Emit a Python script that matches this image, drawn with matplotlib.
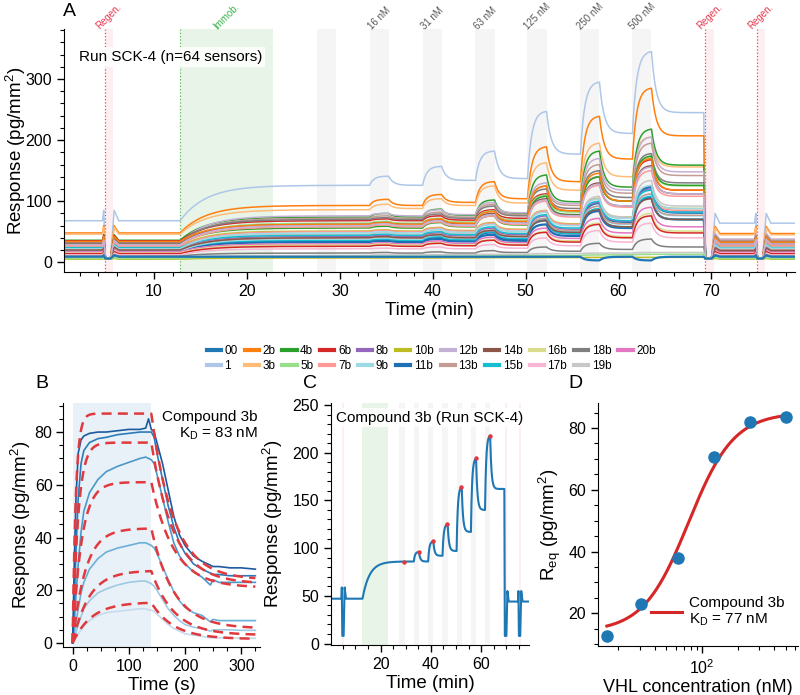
import numpy as np
import matplotlib
matplotlib.use("Agg")
from matplotlib import pyplot as plt
from matplotlib.lines import Line2D
from matplotlib.ticker import MultipleLocator, LogLocator, NullFormatter

plt.rcParams['font.family'] = ['Liberation Sans', 'DejaVu Sans']
plt.rcParams['mathtext.fontset'] = 'custom'
plt.rcParams['mathtext.rm'] = 'Liberation Sans'
plt.rcParams['mathtext.it'] = 'Liberation Sans:italic'
plt.rcParams['xtick.labelsize'] = 11.5
plt.rcParams['ytick.labelsize'] = 11.5
plt.rcParams['axes.labelsize'] = 13.5

# run protocol (minutes)
regen_bands = [(4.7, 5.6), (69.3, 70.3), (74.9, 75.8)]
immob_band = (12.8, 22.8)
inj_starts = [27.5, 33.2, 38.9, 44.6, 50.2, 55.9, 61.5]   # first one is a blank
inj_dur = 2.05
conc_labels = ["16 nM", "31 nM", "63 nM", "125 nM", "250 nM", "500 nM"]

label_colors = {"00": "#1f77b4", "1": "#aec7e8", "2b": "#ff7f0e", "3b": "#ffbb78",
                "4b": "#2ca02c", "5b": "#98df8a", "6b": "#d62728", "7b": "#ff9896",
                "8b": "#9467bd", "9b": "#9edae5", "10b": "#bcbd22", "11b": "#1f6fb4",
                "12b": "#c5b0d5", "13b": "#c49c94", "14b": "#8c564b", "15b": "#17becf",
                "16b": "#dbdb8d", "17b": "#f7b6d2", "18b": "#7f7f7f", "19b": "#c7c7c7",
                "20b": "#e377c2"}

# panel A: levels read per sensor (pg/mm2)
sensor_labels = ["1", "2b", "3b", "4b", "12b", "13b", "6b", "18b", "5b", "4b",
                 "14b", "10b", "19b", "7b", "00", "11b", "15b", "9b", "20b", "8b",
                 "13b", "16b", "6b", "17b", "18b", "2b", "15b", "7b", "9b", "14b",
                 "12b", "10b", "19b", "5b", "00"]
sensor_base = [68, 48, 46, 36, 32, 30, 35, 33, 28, 30,
               30, 26, 25, 24, 20, 19, 20, 18, 17, 22,
               21, 15, 14, 12, 10, 34, 24, 27, 22, 20,
               29, 5, 8, 6, 9]
sensor_imm = [126, 93, 86, 74, 76, 72, 68, 70, 64, 56,
              62, 51, 46, 50, 34, 33, 36, 38, 30, 42,
              40, 28, 26, 22, 15, 62, 44, 58, 48, 40,
              60, 7, 11, 9, 9]
sensor_peaks = [[141, 157, 182, 247, 295, 345],
                [103, 111, 132, 189, 239, 285],
                [95, 104, 125, 163, 195, 205],
                [80, 87, 102, 143, 182, 218],
                [80, 86, 98, 130, 170, 205],
                [76, 82, 95, 125, 160, 195],
                [71, 76, 86, 112, 140, 168],
                [73, 79, 92, 120, 150, 178],
                [67, 72, 84, 110, 140, 172],
                [59, 65, 76, 108, 140, 174],
                [65, 70, 80, 104, 130, 158],
                [53, 57, 65, 85, 105, 125],
                [49, 53, 62, 84, 108, 134],
                [52, 56, 64, 84, 104, 124],
                [37, 41, 49, 70, 97, 123],
                [35, 38, 45, 62, 84, 106],
                [38, 42, 50, 68, 88, 108],
                [40, 44, 52, 72, 92, 112],
                [32, 35, 41, 56, 72, 90],
                [44, 48, 56, 76, 98, 120],
                [42, 46, 53, 72, 92, 112],
                [30, 32, 37, 50, 64, 80],
                [28, 31, 36, 49, 62, 76],
                [23, 25, 29, 40, 52, 64],
                [16, 17, 19, 25, 31, 38],
                [65, 71, 83, 125, 146, 170],
                [46, 50, 58, 78, 100, 118],
                [61, 66, 76, 100, 126, 150],
                [50, 54, 62, 82, 104, 126],
                [42, 45, 52, 68, 86, 104],
                [63, 68, 78, 102, 128, 156],
                [7, 7, 7.5, 7.5, 8, 8],
                [12, 12.5, 13, 14, 15, 16],
                [9.5, 10, 10.5, 11, 12, 13],
                [9, 9, 9, 9, 3, 3]]
sensor_after = [[126, 134, 137, 177, 211, 245],
                [93, 98, 104, 132, 169, 207],
                [88, 93, 97, 118, 140, 156],
                [74, 77, 80, 99, 123, 159],
                [76, 78, 81, 96, 118, 148],
                [72, 74, 78, 93, 113, 142],
                [68, 69, 72, 84, 100, 118],
                [70, 72, 76, 88, 106, 130],
                [64, 66, 69, 82, 100, 125],
                [56, 58, 61, 78, 100, 126],
                [62, 63, 66, 77, 92, 112],
                [51, 52, 54, 63, 74, 88],
                [46, 47, 50, 60, 74, 92],
                [50, 51, 53, 62, 72, 85],
                [34, 35, 37, 47, 66, 81],
                [33, 34, 35, 43, 56, 70],
                [36, 37, 39, 47, 58, 70],
                [38, 39, 41, 50, 62, 76],
                [30, 31, 32, 39, 48, 58],
                [42, 43, 45, 54, 67, 82],
                [40, 41, 43, 52, 63, 77],
                [28, 28, 29, 35, 42, 51],
                [26, 27, 28, 33, 40, 48],
                [22, 22, 23, 27, 33, 40],
                [15, 15, 16, 18, 21, 25],
                [62, 64, 67, 84, 100, 118],
                [44, 45, 47, 56, 68, 82],
                [58, 59, 62, 74, 90, 108],
                [48, 49, 51, 60, 72, 88],
                [40, 40, 42, 49, 58, 70],
                [60, 61, 64, 76, 92, 112],
                [7, 7, 7.5, 7.5, 8, 8],
                [12, 12.5, 13, 14, 15, 16],
                [9.5, 10, 10.5, 11, 12, 13],
                [9, 9, 9, 9, 9, 9]]
sensor_final = [64, 47, 45, 35, 38, 36, 33, 34, 31, 30,
                30, 27, 24, 25, 20, 19, 20, 18, 17, 22,
                21, 14, 14, 12, 10, 33, 24, 28, 23, 19,
                30, 5, 8, 6, 9]

# panel C: compound 3b sensor
c_base, c_imm, c_final = 47, 86, 44
c_peaks = [96, 107, 125, 164, 194, 218]
c_after = [86, 92, 97, 117, 140, 162]

# panel B: kinetics of compound 3b (s, pg/mm2)
b_conc = [16, 31, 63, 125, 250, 500]
b_t = [0, 3, 6, 10, 15, 20, 30, 45, 60, 80, 100, 120, 130, 135, 140, 145, 150, 160,
       170, 180, 190, 200, 215, 230, 245, 250, 260, 280, 300, 325]
b_resp = [
    [0, 1, 2, 3.5, 5, 6.5, 8.5, 10.5, 11.5, 12, 12.5, 13, 13, 12.5, 12.5, 12, 11, 9,
     7, 5.5, 4.5, 3.5, 3, 2.5, 2, 2, 2, 2, 1.8, 1.8],
    [0, 2, 4, 7, 10, 13, 16, 19, 20.5, 22, 23, 23.5, 23.5, 23, 22.5, 21.5, 20, 16.5,
     13, 10.5, 8.5, 7, 6, 5.5, 4.5, 5, 5, 5, 4.8, 4.8],
    [0, 4, 8, 13, 19, 23, 28, 32, 34.5, 36, 37, 38, 38, 37.5, 37, 36, 34, 29,
     24, 19.5, 16, 13.5, 11.5, 10.5, 8, 9, 8.5, 8.5, 8.5, 8.5],
    [0, 8, 18, 30, 42, 50, 57, 62, 65, 67, 68.5, 70, 70.5, 70, 69.5, 68, 64, 55,
     46, 38, 33, 30, 27, 25, 22, 24, 23, 23, 23, 23],
    [0, 15, 35, 55, 68, 73, 76, 77.5, 78, 79, 79.5, 80, 80, 80, 80, 78, 72, 62,
     52, 44, 38, 34, 30, 28, 26.5, 26, 26, 25.5, 25.5, 25.5],
    [0, 30, 55, 72, 77, 78.5, 79.5, 80, 80, 80.5, 81, 81, 81.5, 85, 81, 80, 76, 68,
     58, 48, 41, 37, 33, 31, 29.5, 29, 29, 28.5, 28.5, 28]]
b_colors = ["#c6dbef", "#9ecae1", "#6baed6", "#4a98c9", "#2b7bba", "#1c5aa0"]
b_fit_kd = 83.0      # nM
b_fit_koff = 0.025   # 1/s
b_fit_req = [15.5, 27.5, 43.5, 61, 76, 87]
b_fit_rinf = [1.5, 3, 5.5, 21, 22.5, 24]
b_inj_end = 140

# panel D: equilibrium responses
d_conc = [16, 31, 63, 125, 250, 500]
d_req = [12.5, 23, 38, 70.5, 82, 83.5]
d_fit_kd = 77.0
d_fit_hill = 2.3
d_fit_r0 = 14.0
d_fit_amp = 71.0


def sensorgram(t, base, imm, peaks, afters, final, low=6.0):
    y = np.full_like(t, float(base))
    m = t >= immob_band[0]
    y[m] = base + (imm - base) * (1 - np.exp(-(t[m] - immob_band[0]) / 2.8))
    level = imm
    for s, pk, af in zip(inj_starts[1:], peaks, afters):
        e = s + inj_dur
        m = (t >= s) & (t < e)
        y[m] = level + (pk - level) * (1 - np.exp(-(t[m] - s) / 0.45)) / (1 - np.exp(-inj_dur / 0.45))
        m = t >= e
        y[m] = af + (pk - af) * np.exp(-(t[m] - e) / 0.5)
        level = af
    m = t >= regen_bands[1][0]
    y[m] = final
    pulses = [(regen_bands[0], base, base, True), (regen_bands[1], level, final, False),
              (regen_bands[2], final, final, True)]
    for (r0, r1), pre, post, spike in pulses:
        kt = [r0 - 0.25, r0 - 0.12, r0 + 0.05, r1 - 0.3, r1 + 0.1, r1 + 0.6]
        kv = [pre, pre * 1.25 if spike else pre, min(low, pre), min(low, post), post * 1.25, post]
        m = (t >= kt[0]) & (t <= kt[-1])
        y[m] = np.interp(t[m], kt, kv)
    return y


def shade_protocol(ax, labels=True):
    top = ax.get_xaxis_transform()
    for r0, r1 in regen_bands:
        ax.axvspan(r0, r1, color="#e8384f", alpha=0.08, lw=0)
        if labels:
            ax.axvline(r0, color="#e8384f", ls=":", lw=0.9, alpha=0.9)
            ax.text((r0 + r1) / 2, 0.99, "Regen.", transform=top,
                    rotation=45, ha="center", va="bottom", fontsize=7, color="#e8384f")
    ax.axvspan(*immob_band, color="#2ca02c", alpha=0.11, lw=0)
    if labels:
        ax.axvline(immob_band[0], color="#2ca02c", ls=":", lw=0.9, alpha=0.7)
        ax.text(sum(immob_band) / 2, 0.99, "Immob.", transform=top,
                rotation=45, ha="center", va="bottom", fontsize=7, color="#3cb44b")
    for i, s in enumerate(inj_starts):
        ax.axvspan(s, s + inj_dur, color="#7f7f7f", alpha=0.07, lw=0)
        if labels and i > 0:
            ax.text(s + inj_dur / 2, 0.99, conc_labels[i - 1], transform=top,
                    rotation=45, ha="center", va="bottom", fontsize=7, color="#555555")


def style(ax):
    ax.spines["top"].set_visible(False)
    ax.spines["right"].set_visible(False)
    ax.tick_params(which="major", length=5, width=1)
    ax.tick_params(which="minor", length=3, width=0.8)


fig = plt.figure(figsize=(8, 6.95), dpi=100)
t = np.arange(0.3, 79.0, 0.02)

# ---- A ----
axA = fig.add_axes([0.08, 0.6086, 0.91375, 0.3497])
shade_protocol(axA)
for i in range(len(sensor_labels)):
    y = sensorgram(t, sensor_base[i], sensor_imm[i], sensor_peaks[i], sensor_after[i], sensor_final[i])
    lw = 1.6 if sensor_labels[i] in ("00", "11b") else 1.1
    axA.plot(t, y, color=label_colors[sensor_labels[i]], lw=lw)
axA.set_xlim(0.3, 79)
axA.set_ylim(-16, 382)
axA.xaxis.set_major_locator(MultipleLocator(10))
axA.xaxis.set_minor_locator(MultipleLocator(2))
axA.yaxis.set_major_locator(MultipleLocator(100))
axA.yaxis.set_minor_locator(MultipleLocator(20))
axA.set_xlabel("Time (min)", labelpad=2)
axA.set_ylabel(r"Response (pg/mm$^2$)")
axA.yaxis.set_label_coords(-0.049, 0.5)
axA.text(0.02, 0.885, "Run SCK-4 (n=64 sensors)", transform=axA.transAxes, fontsize=11,
         va="center", bbox=dict(fc="white", ec="none", alpha=0.85, pad=2))
style(axA)

handles = [Line2D([], [], color=c, lw=3) for c in label_colors.values()]
fig.legend(handles, list(label_colors.keys()), loc="center", bbox_to_anchor=(0.539, 0.484),
           ncol=11, frameon=False, fontsize=8.5, handlelength=1.2, handletextpad=0.3,
           columnspacing=0.6, labelspacing=0.3)

# ---- B ----
axB = fig.add_axes([0.0788, 0.0691, 0.246, 0.351])
axB.axvspan(0, b_inj_end, color="#1f77b4", alpha=0.1, lw=0)
tb = np.linspace(0, b_t[-1], 400)
for i, c in enumerate(b_conc):
    axB.plot(b_t, b_resp[i], color=b_colors[i], lw=1.2)
for i, c in enumerate(b_conc):
    kobs = b_fit_koff * (1 + c / b_fit_kd)
    assoc = b_fit_req[i] * (1 - np.exp(-kobs * tb))
    r_end = b_fit_req[i] * (1 - np.exp(-kobs * b_inj_end))
    dissoc = b_fit_rinf[i] + (r_end - b_fit_rinf[i]) * np.exp(-b_fit_koff * (tb - b_inj_end))
    fit = np.where(tb <= b_inj_end, assoc, dissoc)
    axB.plot(tb, fit, color="#e0393e", lw=1.8, ls=(0, (4, 2.5)))
axB.set_xlim(-17, 333)
axB.set_ylim(-1.5, 91)
axB.xaxis.set_major_locator(MultipleLocator(100))
axB.xaxis.set_minor_locator(MultipleLocator(25))
axB.yaxis.set_major_locator(MultipleLocator(20))
axB.yaxis.set_minor_locator(MultipleLocator(5))
axB.tick_params(axis="y", pad=2.5)
axB.set_xlabel("Time (s)", labelpad=2)
axB.set_ylabel(r"Response (pg/mm$^2$)")
axB.yaxis.set_label_coords(-0.155, 0.5)
axB.text(0.99, 0.97, "Compound 3b\n" + r"K$_\mathrm{D}$ = 83 nM", transform=axB.transAxes,
         ha="right", va="top", fontsize=11, linespacing=1.1)
style(axB)

# ---- C ----
axC = fig.add_axes([0.4138, 0.072, 0.2475, 0.348])
shade_protocol(axC, labels=False)
yc = sensorgram(t, c_base, c_imm, c_peaks, c_after, c_final, low=8)
axC.plot(t, yc, color="#1f77b4", lw=1.5)
dot_t = [s + inj_dur - 0.15 for s in inj_starts]
axC.plot(dot_t, [c_imm - 1] + c_peaks, "o", color="#e0393e", ms=2.2, zorder=4)
axC.set_xlim(0.3, 79)
axC.set_ylim(-1.5, 252)
axC.xaxis.set_major_locator(MultipleLocator(20))
axC.xaxis.set_minor_locator(MultipleLocator(5))
axC.yaxis.set_major_locator(MultipleLocator(50))
axC.yaxis.set_minor_locator(MultipleLocator(10))
axC.set_xlabel("Time (min)", labelpad=2)
axC.set_ylabel(r"Response (pg/mm$^2$)")
axC.yaxis.set_label_coords(-0.235, 0.5)
axC.text(0.5, 0.94, "Compound 3b (Run SCK-4)", transform=axC.transAxes, ha="center",
         va="center", fontsize=11, bbox=dict(fc="white", ec="none", alpha=0.85, pad=2))
style(axC)

# ---- D ----
axD = fig.add_axes([0.7475, 0.0705, 0.25, 0.35])
cc = np.logspace(np.log10(d_conc[0]), np.log10(d_conc[-1]), 200)
frac = cc ** d_fit_hill / (d_fit_kd ** d_fit_hill + cc ** d_fit_hill)
axD.plot(cc, d_fit_r0 + d_fit_amp * frac, color="#d62728", lw=2.2,
         label="Compound 3b\n" + r"K$_\mathrm{D}$ = 77 nM")
axD.plot(d_conc, d_req, "o", color="#1f77b4", ms=8, zorder=3)
axD.set_xscale("log")
axD.set_xlim(13.5, 630)
axD.set_ylim(9.4, 88.2)
axD.xaxis.set_major_locator(LogLocator(base=10, numticks=10))
axD.xaxis.set_minor_locator(LogLocator(base=10, subs=np.arange(2, 10), numticks=20))
axD.xaxis.set_minor_formatter(NullFormatter())
axD.yaxis.set_major_locator(MultipleLocator(20))
axD.yaxis.set_minor_locator(MultipleLocator(5))
axD.set_xlabel("VHL concentration (nM)", labelpad=2, fontsize=13)
axD.set_ylabel(r"R$_\mathrm{eq}$ (pg/mm$^2$)")
axD.yaxis.set_label_coords(-0.175, 0.5)
axD.legend(loc="center", bbox_to_anchor=(0.6, 0.14), frameon=False, fontsize=11,
           handlelength=2.0, handletextpad=0.5)
style(axD)

fig.text(0.079, 0.995, "A", fontsize=14, va="top")
fig.text(0.044, 0.461, "B", fontsize=14, va="top")
fig.text(0.379, 0.461, "C", fontsize=14, va="top")
fig.text(0.711, 0.461, "D", fontsize=14, va="top")

fig.savefig("out.png", dpi=100)
